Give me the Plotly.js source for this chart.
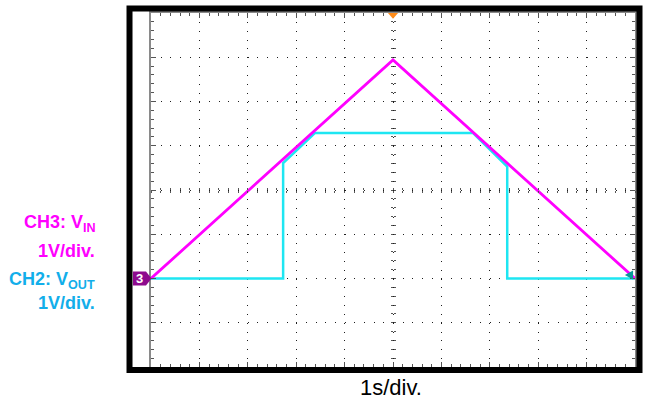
<!DOCTYPE html>
<html>
<head>
<meta charset="utf-8">
<script src="https://cdn.plot.ly/plotly-3.0.1.min.js"></script>
<style>html,body{margin:0;padding:0;background:#fff;}#chart{width:647px;height:400px;}</style>
</head>
<body>
<div id="chart"></div>
<script>
// Time in divisions (1 s/div), voltage in divisions (1 V/div), screen centre = 0
var vinTime = [-5, 0, 5];
var vinVolt = [-2, 2.94, -2];
var voutTime = [-5, -2.27, -2.27, -1.61, 1.65, 2.36, 2.36, 5];
var voutVolt = [-2, -2, 0.61, 1.29, 1.29, 0.53, -2, -2];
var groundLevel = -2;
var labelCh3 = 'CH3: V<sub>IN</sub>';
var labelCh3Scale = '1V/div.';
var labelCh2 = 'CH2: V<sub>OUT</sub>';
var labelCh2Scale = '1V/div.';
var labelTime = '1s/div.';

var magenta = '#ff00ff';
var cyan = '#1ee6f2';
var labelCyan = '#12aeea';
var gridCol = '#1e1e1e';
var tickCol = '#555555';

var traces = [
  {x: voutTime, y: voutVolt, type: 'scatter', mode: 'lines', line: {color: cyan, width: 2.5}, hoverinfo: 'skip', showlegend: false},
  {x: vinTime, y: vinVolt, type: 'scatter', mode: 'lines', line: {color: magenta, width: 2.8}, hoverinfo: 'skip', showlegend: false},
  {x: [null], y: [null], xaxis: 'x2', yaxis: 'y', showlegend: false, hoverinfo: 'skip'},
  {x: [null], y: [null], xaxis: 'x3', yaxis: 'y', showlegend: false, hoverinfo: 'skip'},
  {x: [null], y: [null], xaxis: 'x', yaxis: 'y2', showlegend: false, hoverinfo: 'skip'},
  {x: [null], y: [null], xaxis: 'x', yaxis: 'y3', showlegend: false, hoverinfo: 'skip'}
];

function centreAxis(side, ticks, overl) {
  return {overlaying: overl, anchor: 'free', position: 0.5, side: side,
    range: overl === 'x' ? [-5, 5] : [-4, 4], fixedrange: true,
    showgrid: false, zeroline: false, showline: false, showticklabels: false,
    ticks: ticks, ticklen: 2, tickwidth: 1, tickcolor: tickCol, tick0: 0, dtick: 0.2};
}

var x2 = centreAxis('bottom', 'outside', 'x');
var x3 = centreAxis('bottom', 'inside', 'x');
var y2 = centreAxis('left', 'outside', 'y');
var y3 = centreAxis('left', 'inside', 'y');

var layout = {
  width: 647, height: 400,
  margin: {l: 151, r: 12, t: 13, b: 33, pad: 0},
  paper_bgcolor: '#ffffff', plot_bgcolor: '#ffffff',
  showlegend: false,
  font: {family: 'Liberation Sans, Arial, sans-serif'},
  xaxis: {range: [-5, 5], fixedrange: true, tick0: 0, dtick: 1,
    showgrid: true, gridcolor: gridCol, gridwidth: 1, griddash: '1px,7.85px',
    zeroline: false, showticklabels: false,
    showline: true, linecolor: '#8a8a8a', linewidth: 2, mirror: 'ticks',
    ticks: 'inside', ticklen: 5, tickcolor: tickCol,
    minor: {dtick: 0.2, tick0: 0, ticks: 'inside', ticklen: 3, tickcolor: tickCol, showgrid: false}},
  yaxis: {range: [-4, 4], fixedrange: true, tick0: 0, dtick: 1,
    showgrid: true, gridcolor: gridCol, gridwidth: 1, griddash: '1px,8.68px',
    zeroline: false, showticklabels: false,
    showline: true, linecolor: '#8a8a8a', linewidth: 2, mirror: 'ticks',
    ticks: 'inside', ticklen: 5, tickcolor: tickCol,
    minor: {dtick: 0.2, tick0: 0, ticks: 'inside', ticklen: 3, tickcolor: tickCol, showgrid: false}},
  xaxis2: x2, xaxis3: x3, yaxis2: y2, yaxis3: y3,
  shapes: [
    {type: 'rect', xref: 'paper', yref: 'paper', x0: -0.0444, x1: 1.0093, y0: -0.0085, y1: 1.0127,
     line: {color: '#000000', width: 6}, fillcolor: 'rgba(0,0,0,0)', layer: 'above'},
    {type: 'path', xref: 'x', yref: 'paper', path: 'M -0.105,1 L 0.105,1 L 0,0.984 Z',
     fillcolor: '#ff8c1a', line: {width: 0}, layer: 'above'},
    {type: 'path', xref: 'paper', yref: 'y',
     path: 'M -0.0372,-1.84 L -0.0103,-1.84 L 0.001,-2.0 L -0.0103,-2.16 L -0.0372,-2.16 Z',
     fillcolor: '#8e0a8e', line: {width: 0}, layer: 'above'},
    {type: 'path', xref: 'x', yref: 'y', path: 'M 4.79,-1.92 L 4.96,-1.82 L 4.96,-2.02 Z',
     fillcolor: '#0a9a9a', line: {width: 0}, layer: 'above'}
  ],
  annotations: [
    {xref: 'paper', yref: 'y', x: -0.0238, y: groundLevel, text: '<b>3</b>', showarrow: false,
     font: {color: '#ffffff', size: 13, family: 'Liberation Sans, Arial, sans-serif'}, xanchor: 'center', yanchor: 'middle'},
    {xref: 'paper', yref: 'paper', x: -0.1095, y: 0.405, text: '<b>' + labelCh3 + '</b>', showarrow: false,
     font: {color: magenta, size: 18}, xanchor: 'right', yanchor: 'middle'},
    {xref: 'paper', yref: 'paper', x: -0.1115, y: 0.327, text: '<b>' + labelCh3Scale + '</b>', showarrow: false,
     font: {color: magenta, size: 18}, xanchor: 'right', yanchor: 'middle'},
    {xref: 'paper', yref: 'paper', x: -0.1115, y: 0.245, text: '<b>' + labelCh2 + '</b>', showarrow: false,
     font: {color: labelCyan, size: 18}, xanchor: 'right', yanchor: 'middle'},
    {xref: 'paper', yref: 'paper', x: -0.1115, y: 0.18, text: '<b>' + labelCh2Scale + '</b>', showarrow: false,
     font: {color: labelCyan, size: 18}, xanchor: 'right', yanchor: 'middle'},
    {xref: 'paper', yref: 'paper', x: 0.496, y: -0.058, text: labelTime, showarrow: false,
     font: {color: '#000000', size: 22}, xanchor: 'center', yanchor: 'middle'}
  ]
};

Plotly.newPlot('chart', traces, layout, {displayModeBar: false, staticPlot: true});
</script>
</body>
</html>
